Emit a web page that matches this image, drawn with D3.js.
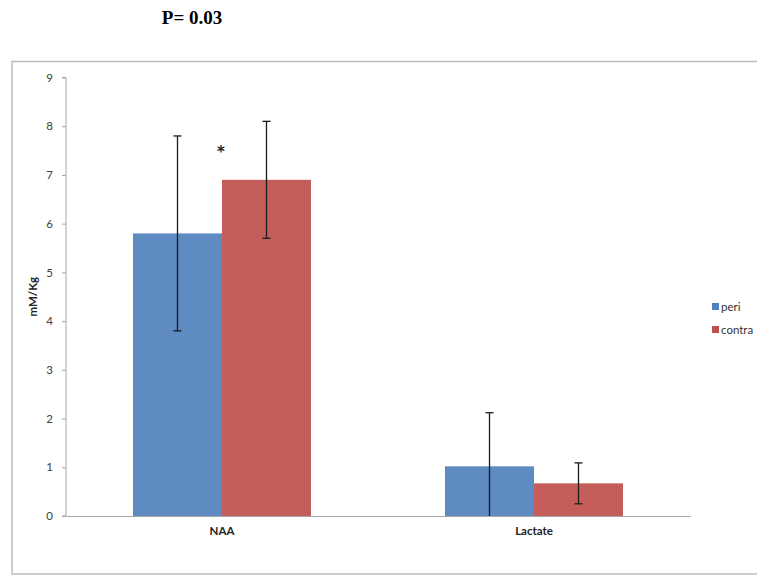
<!DOCTYPE html>
<html><head><meta charset="utf-8">
<script src="https://cdn.jsdelivr.net/npm/d3@7"></script>
<style>body{margin:0;background:#fff;}svg{display:block;}</style>
</head><body>
<svg id="c" width="757" height="577"></svg>
<script>
const categories = ["NAA", "Lactate"];
const seriesNames = ["peri", "contra"];
const periValues = [5.8, 1.02];
const contraValues = [6.9, 0.67];
const periErrors = [2.0, 1.1];
const contraErrors = [1.2, 0.42];
const yTicks = [0,1,2,3,4,5,6,7,8,9];
const colors = ["#4f81bd", "#c0504d"];

(function(){
const svg = d3.select("#c");
const font = "Lato, 'Open Sans', sans-serif";

// outer frame
svg.append("rect").attr("x",12).attr("y",61.5).attr("width",746).attr("height",512.5)
  .attr("fill","none").attr("stroke","#bdbdbd").attr("stroke-width",1.5);

// title
svg.append("text").attr("x",192).attr("y",24).attr("text-anchor","middle")
  .attr("font-family","'Liberation Serif','Times New Roman',serif").attr("font-weight","bold")
  .attr("font-size",19).attr("fill","#000").text("P= 0.03");

const pL = 66, pR = 690, pT = 77.5, pB = 516;
const x = d3.scaleBand().domain(categories).range([pL,pR]).paddingInner(0).paddingOuter(0);
const y = d3.scaleLinear().domain([0,9]).range([pB,pT]);
const barW = 89;
const xs = d3.scaleBand().domain(seriesNames).range([-barW, barW]);

const data = categories.map((c,i)=>({cat:c, vals:[
  {s:"peri", v:periValues[i], e:periErrors[i]},
  {s:"contra", v:contraValues[i], e:contraErrors[i]}]}));

const g = svg.append("g");
data.forEach(d=>{
  const cx = x(d.cat) + x.bandwidth()/2;
  d.vals.forEach((s,j)=>{
    const bx = cx + xs(s.s);
    g.append("rect").attr("x",bx).attr("y",y(s.v)).attr("width",xs.bandwidth())
      .attr("height",pB-y(s.v)).attr("fill",colors[j]).attr("fill-opacity",0.92);
  });
});

// y axis
const yAxis = d3.axisLeft(y).tickValues(yTicks).tickSize(4).tickPadding(9).tickFormat(d3.format("d"));
const ya = svg.append("g").attr("transform",`translate(${pL},0)`).call(yAxis);
ya.select(".domain").attr("stroke","#a6a6a6").attr("d",`M-4,${pT}H0V${pB}H-4`);
ya.selectAll(".tick line").attr("stroke","#a6a6a6");
ya.selectAll(".tick text").attr("font-family",font).attr("font-size",11.5).attr("fill","#404040");

// x axis baseline
const xAxis = d3.axisBottom(x).tickSize(0).tickPadding(11);
const xa = svg.append("g").attr("transform",`translate(0,${pB})`).call(xAxis);
xa.select(".domain").attr("stroke","#a6a6a6").attr("stroke-width",1.2);
xa.selectAll(".tick text").attr("font-family",font).attr("font-size",11.5).attr("font-weight","bold").attr("fill","#222");

// error bars
data.forEach(d=>{
  const cx = x(d.cat) + x.bandwidth()/2;
  d.vals.forEach(s=>{
    const ex = cx + xs(s.s) + xs.bandwidth()/2;
    const y1 = y(Math.min(9, s.v + s.e)), y0 = y(Math.max(0, s.v - s.e));
    g.append("line").attr("x1",ex).attr("x2",ex).attr("y1",y1).attr("y2",y0).attr("stroke","#1a1a1a").attr("stroke-width",1.3);
    g.append("line").attr("x1",ex-4).attr("x2",ex+4).attr("y1",y1).attr("y2",y1).attr("stroke","#1a1a1a").attr("stroke-width",1.3);
    if (s.v - s.e > 0)
      g.append("line").attr("x1",ex-4).attr("x2",ex+4).attr("y1",y0).attr("y2",y0).attr("stroke","#1a1a1a").attr("stroke-width",1.3);
  });
});

// significance star
svg.append("text").attr("x",x("NAA")+x.bandwidth()/2 - 1).attr("y",y(7.3)-3).attr("text-anchor","middle")
  .attr("font-family","'DejaVu Sans', sans-serif").attr("font-weight","bold").attr("font-size",15).attr("fill","#222").text("*");

// y axis title
svg.append("text").attr("transform",`translate(37,${(pT+pB)/2}) rotate(-90)`)
  .attr("text-anchor","middle").attr("font-family",font).attr("font-size",11.5).attr("font-weight","bold")
  .attr("fill","#222").text("mM/Kg");

// legend
const lg = svg.append("g");
seriesNames.forEach((n,i)=>{
  const ly = 307 + i*23;
  lg.append("rect").attr("x",712).attr("y",ly-4).attr("width",7).attr("height",7).attr("fill",colors[i]);
  lg.append("text").attr("x",721).attr("y",ly+4).attr("font-family",font).attr("font-size",11.5)
    .attr("fill","#333").text(n);
});
})();
</script>
</body></html>
